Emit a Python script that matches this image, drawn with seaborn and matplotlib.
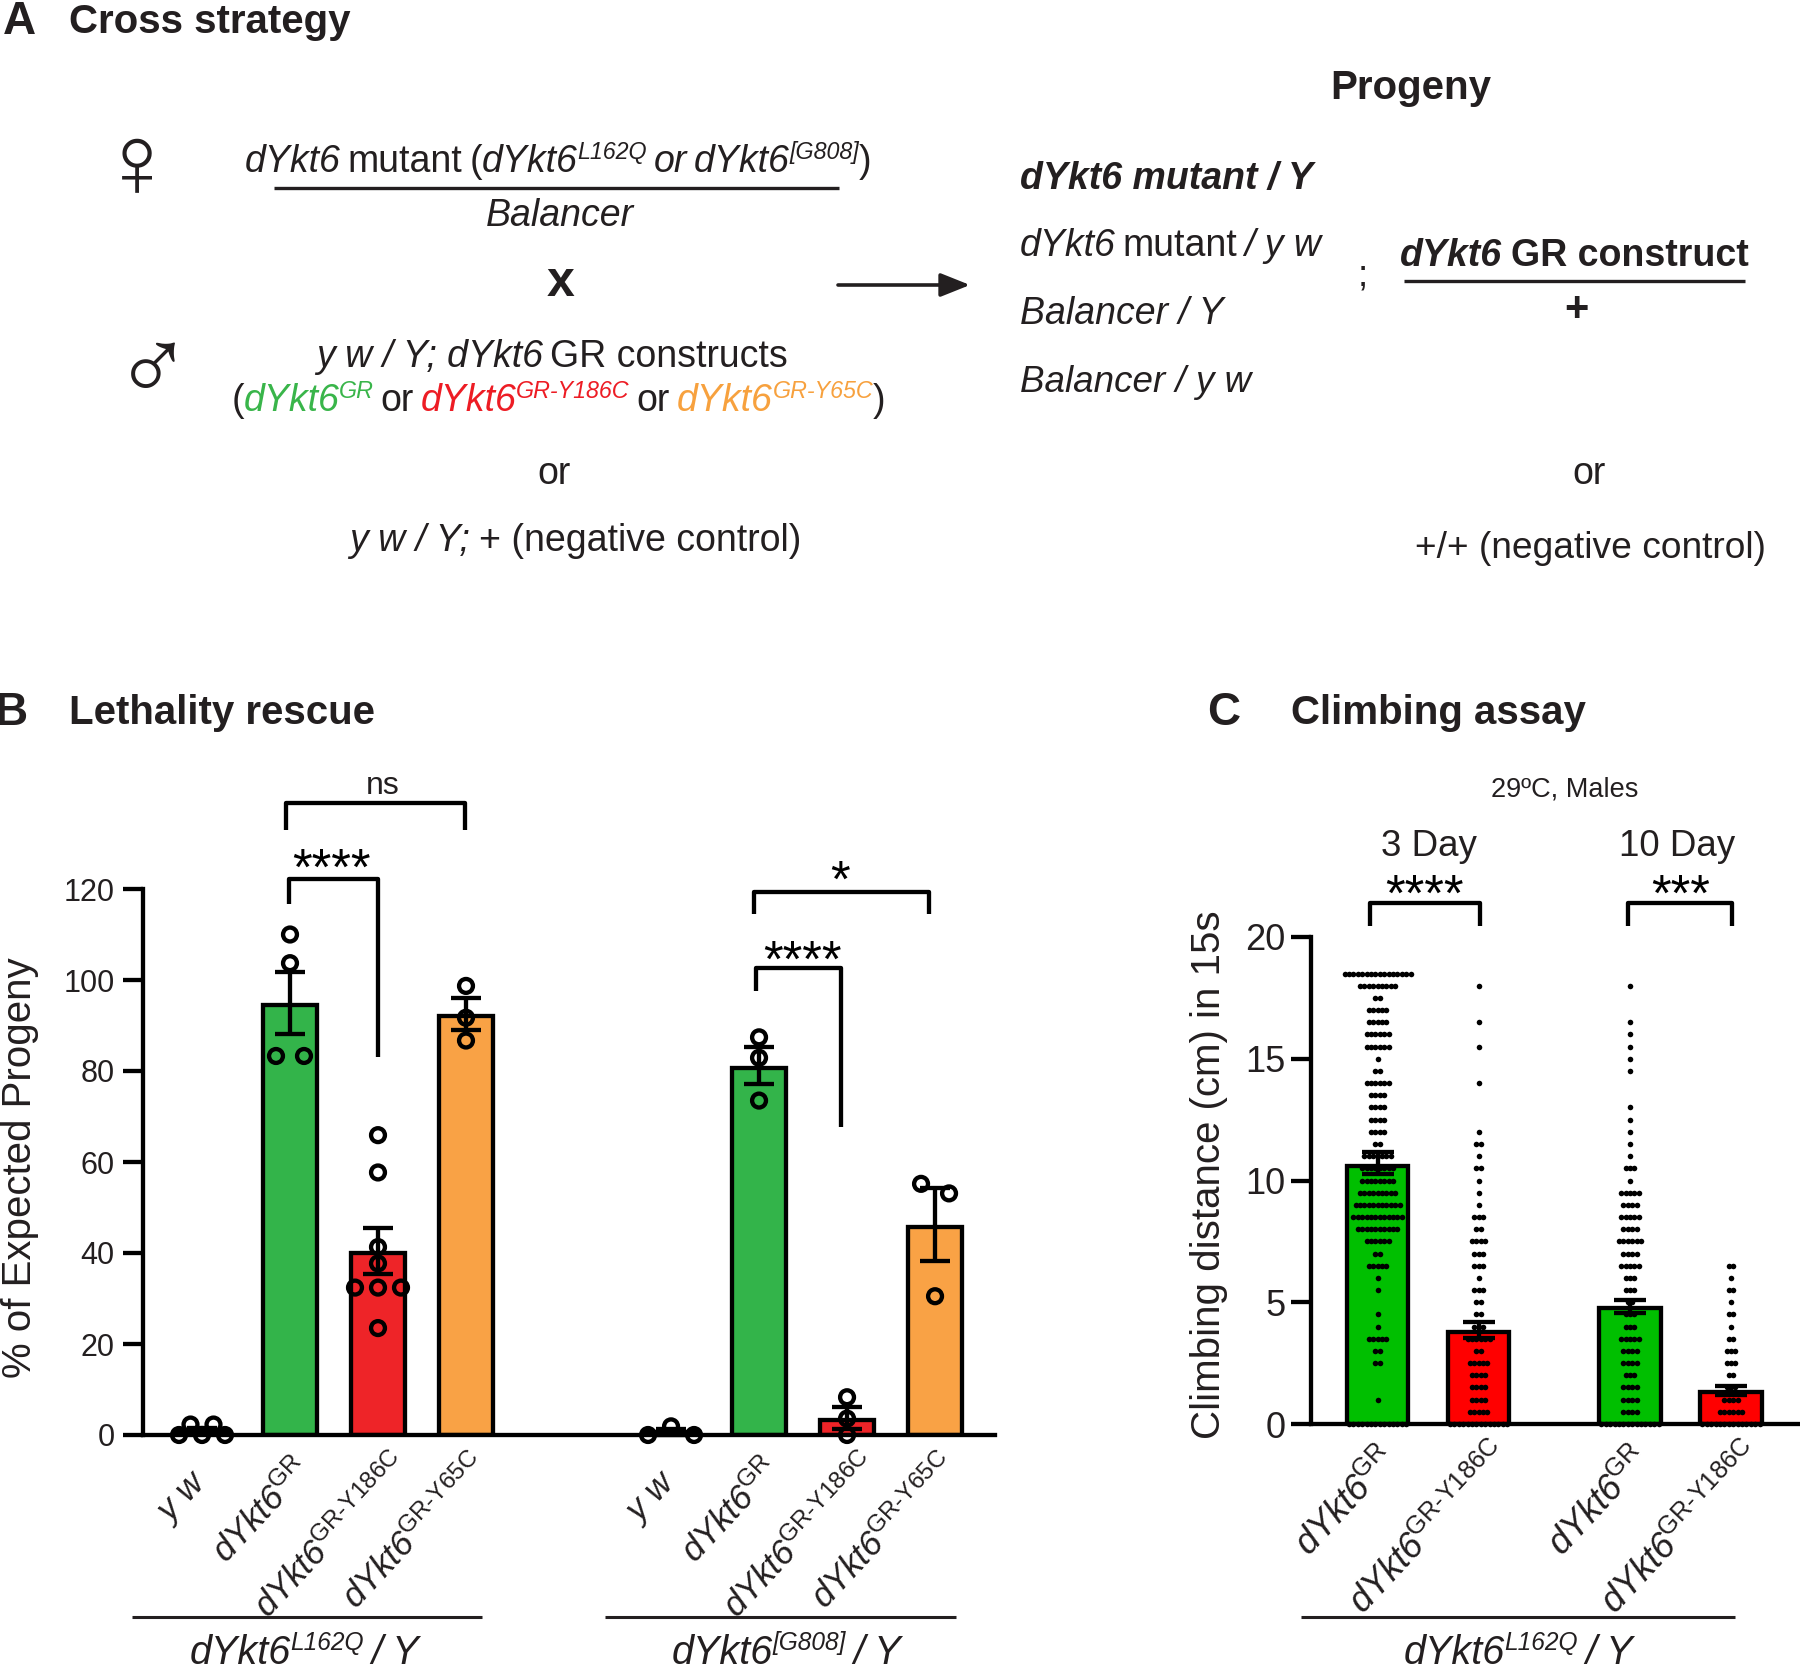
import numpy as np
import pandas as pd
import matplotlib
matplotlib.use("Agg")
import matplotlib.pyplot as plt
from matplotlib.transforms import ScaledTranslation
import seaborn as sns

sns.set_theme(style="ticks")
FONT = "Liberation Sans"
plt.rcParams.update({
    "font.family": [FONT, "DejaVu Sans"],
    "mathtext.fontset": "custom",
    "mathtext.rm": "Liberation Sans:italic",
    "mathtext.it": "Liberation Sans:italic",
    "mathtext.bf": "Liberation Sans",
    "mathtext.fallback": "cm",
})

W, H, DPI = 1800, 1666, 100
INK = "#231f20"

# ---------- data ----------
B_CATS = ["y w", "dYkt6 GR", "dYkt6 GR-Y186C", "dYkt6 GR-Y65C"]
B_MEAN = [0.9, 94.6, 40.0, 92.1, 0.6, 80.7, 3.3, 45.7]
B_LOW = [0.3, 88.2, 35.3, 89.0, 0.1, 77.1, 1.4, 38.3]
B_HIGH = [1.5, 101.8, 45.4, 96.1, 1.4, 85.3, 6.2, 54.3]
B_POINTS = [
    [0.0, 2.3, 0.0, 2.3, 0.0],
    [110.0, 103.7, 83.3, 83.3],
    [65.9, 57.7, 41.3, 37.7, 32.4, 32.4, 32.4, 23.5],
    [98.7, 91.7, 86.7],
    [0.0, 1.9, 0.0],
    [87.4, 82.9, 73.5],
    [8.3, 3.6, 0.0],
    [55.2, 53.1, 30.5],
]
B_COLORS = ["#33b44a", "#ee2428", "#f9a245"]

C_MEAN = [10.6, 3.78, 4.76, 1.33]
C_LOW = [10.27, 3.55, 4.55, 1.2]
C_HIGH = [11.15, 4.2, 5.1, 1.57]
C_ROW_VALUES = [18.5, 18, 17.5, 17, 16.5, 16, 15.5, 15, 14.5, 14, 13.5, 13, 12.5, 12, 11.5, 11, 10.5,
                10, 9.5, 9, 8.5, 8, 7.5, 7, 6.5, 6, 5.5, 5, 4.5, 4, 3.5, 3, 2.5, 2, 1.5, 1, 0.5, 0]
C_COUNTS_1 = [16, 9, 2, 5, 5, 6, 6, 1, 2, 6, 4, 4, 4, 4, 2, 7, 8,
              8, 9, 11, 12, 10, 6, 2, 5, 1, 1, 0, 1, 1, 5, 2, 2, 0, 0, 1, 0, 14]
C_COUNTS_2 = [0, 1, 0, 0, 1, 0, 1, 0, 0, 1, 0, 0, 0, 1, 2, 1, 2,
              1, 1, 1, 3, 2, 4, 3, 3, 1, 3, 2, 2, 3, 6, 2, 5, 4, 4, 4, 5, 14]
C_COUNTS_3 = [0, 1, 0, 0, 1, 1, 1, 1, 1, 0, 0, 1, 1, 1, 1, 1, 3,
              1, 5, 4, 5, 4, 6, 4, 5, 3, 3, 2, 3, 3, 5, 4, 4, 3, 4, 4, 4, 14]
C_COUNTS_4 = [0, 0, 0, 0, 0, 0, 0, 0, 0, 0, 0, 0, 0, 0, 0, 0, 0,
              0, 0, 0, 0, 0, 0, 0, 2, 1, 2, 1, 2, 1, 2, 3, 3, 2, 3, 4, 6, 14]
C_COLORS = ["#00bf00", "#ff0000", "#00bf00", "#ff0000"]

TXT_GREEN, TXT_RED, TXT_ORANGE = "#39b54a", "#ed1c24", "#f7a13e"
LABEL_GR = r"$\mathrm{dYkt6}^{\mathbf{GR}}$"
LABEL_Y186 = "$\\mathrm{dYkt6}^{\\mathbf{GR\u2010Y186C}}$"
LABEL_Y65 = "$\\mathrm{dYkt6}^{\\mathbf{GR\u2010Y65C}}$"
LABEL_YW = r"$\mathrm{y\ w}$"

fig = plt.figure(figsize=(W / DPI, H / DPI), dpi=DPI, facecolor="white")


def make_axes(left, right, top, bottom):
    return fig.add_axes([left / W, 1 - bottom / H, (right - left) / W, (bottom - top) / H])


def style_axes(ax, tick_size, ypad, nudges):
    sns.despine(ax=ax)
    for s in ("left", "bottom"):
        ax.spines[s].set_linewidth(3.1)
        ax.spines[s].set_color("black")
    ax.tick_params(axis="y", length=14.4, width=3.1, labelsize=tick_size, pad=ypad, color="black", labelcolor=INK)
    ax.tick_params(axis="x", length=0, pad=13)
    ax.set_xlabel("")
    ax.patch.set_alpha(0)
    for t, (dx, dy) in zip(ax.get_xticklabels(), nudges):
        t.set_transform(t.get_transform() + ScaledTranslation(dx / 72, dy / 72, fig.dpi_scale_trans))


# ---------- panel B ----------
axB = make_axes(143, 995, 889, 1435)
B_SPACING = 88.0
B_GROUP_GAP = 5.33
pos_b = [i for i in range(4)] + [B_GROUP_GAP + i for i in range(4)]
df_b = pd.DataFrame({"pos": pos_b, "mean": B_MEAN})
pal_b = dict(zip(pos_b, ["#ffffff"] + B_COLORS + ["#ffffff"] + B_COLORS))
sns.barplot(data=df_b, x="pos", y="mean", hue="pos", palette=pal_b, native_scale=True, dodge=False,
            legend=False, width=0.61, edgecolor="black", linewidth=3.1, errorbar=None, ax=axB, saturation=1)


def spread(values, px_per_unit, tol=2.5, step=28.0, total=46.0):
    """Row-wise symmetric spreading of near-equal points, as in a scatter-dot bar."""
    out = np.zeros(len(values))
    used = [False] * len(values)
    for i, v in enumerate(values):
        if used[i]:
            continue
        row = [j for j in range(len(values)) if not used[j] and abs(values[j] - v) <= tol]
        for j in row:
            used[j] = True
        n = len(row)
        if n > 1:
            s = min(step, total / (n - 1))
            for k, j in enumerate(row):
                out[j] = (k - (n - 1) / 2) * s / px_per_unit
    return out


xs, ys = [], []
for p, vals in zip(pos_b, B_POINTS):
    xs.extend(p + spread(vals, B_SPACING))
    ys.extend(vals)
sns.scatterplot(x=xs, y=ys, s=10 ** 2, color="none", edgecolor="black", linewidth=3.1, ax=axB,
                legend=False, zorder=4, clip_on=False)
axB.errorbar(pos_b, B_MEAN, yerr=[np.subtract(B_MEAN, B_LOW), np.subtract(B_HIGH, B_MEAN)], fmt="none",
             ecolor="black", elinewidth=3.1, capsize=10.5, capthick=3.1, zorder=5, clip_on=False)
axB.set_ylim(0, 120)
axB.set_yticks([0, 20, 40, 60, 80, 100, 120])
axB.set_xlim((143 - 202) / B_SPACING, (995 - 202) / B_SPACING)
axB.set_xticks(pos_b)
axB.set_xticklabels([LABEL_YW, LABEL_GR, LABEL_Y186, LABEL_Y65] * 2, rotation=47, ha="right",
                    rotation_mode="anchor", fontsize=25, color=INK)
B_NUDGE = [(-7.5, -9), (1.5, 0), (9, 4), (2.5, 3)]
style_axes(axB, 22, 6, B_NUDGE * 2)
axB.set_ylabel("")

# ---------- panel C ----------
axC = make_axes(1311, 1800, 937, 1424)
C_SPACING = 101.0
pos_c = [0, 1, 2.5, 3.5]
df_c = pd.DataFrame({"pos": pos_c, "mean": C_MEAN})
pal_c = dict(zip(pos_c, C_COLORS))
sns.barplot(data=df_c, x="pos", y="mean", hue="pos", palette=pal_c, native_scale=True, dodge=False,
            legend=False, width=0.605, edgecolor="black", linewidth=3.1, errorbar=None, ax=axC, saturation=1)
xs, ys = [], []
DOT_STEP = 4.4 / C_SPACING
for p, counts in zip(pos_c, [C_COUNTS_1, C_COUNTS_2, C_COUNTS_3, C_COUNTS_4]):
    for v, n in zip(C_ROW_VALUES, counts):
        for k in range(n):
            xs.append(p + (k - (n - 1) / 2) * DOT_STEP)
            ys.append(v)
sns.scatterplot(x=xs, y=ys, s=4.0 ** 2, color="black", edgecolor="black", linewidth=0, ax=axC,
                legend=False, zorder=4, clip_on=False)
axC.errorbar(pos_c, C_MEAN, yerr=[np.subtract(C_MEAN, C_LOW), np.subtract(C_HIGH, C_MEAN)], fmt="none",
             ecolor="black", elinewidth=3.1, capsize=11.5, capthick=3.1, zorder=5)
axC.set_ylim(0, 20)
axC.set_yticks([0, 5, 10, 15, 20])
axC.set_xlim((1311 - 1377.5) / C_SPACING, (1800 - 1377.5) / C_SPACING)
axC.set_xticks(pos_c)
axC.set_xticklabels([LABEL_GR, LABEL_Y186, LABEL_GR, LABEL_Y186], rotation=47, ha="right",
                    rotation_mode="anchor", fontsize=26, color=INK)
style_axes(axC, 26, 4, [(1, 0), (9, 3)] * 2)
axC.set_ylabel("")

# ---------- overlay in pixel coordinates ----------
ov = fig.add_axes([0, 0, 1, 1], zorder=10)
ov.set_xlim(0, W)
ov.set_ylim(H, 0)
ov.axis("off")
renderer = fig.canvas.get_renderer()


def T(x, y, s, size=26.5, ha="center", va="center", color=INK, weight="normal", style="normal", **kw):
    return ov.text(x, y, s, fontsize=size, ha=ha, va=va, color=color, fontweight=weight, fontstyle=style,
                   family=[FONT, "DejaVu Sans"], **kw)


def rule(x0, x1, y, lw=2.2, color=INK):
    ov.plot([x0, x1], [y, y], color=color, lw=lw, solid_capstyle="butt")


def bracket(x0, x1, y_top, y0, y1, lw=3.1):
    ov.plot([x0, x0, x1, x1], [y0, y_top, y_top, y1], color="black", lw=lw, solid_joinstyle="round",
            solid_capstyle="butt")


def rich(x, y, parts, size=27, ha="center", sp=0.2):
    """parts: (text, style, weight, color, sup). y is the baseline."""
    space = sp * size * DPI / 72
    items, total = [], 0.0
    for text, style, weight, color, sup in parts:
        if text == " ":
            items.append(None)
            total += space
            continue
        fs = size * (0.62 if sup else 1)
        t = T(0, y - (0.36 * size * DPI / 72 if sup else 0), text, size=fs, ha="left", va="baseline", color=color,
              weight=weight, style=style)
        w = t.get_window_extent(renderer).width - 0.5
        items.append((t, w))
        total += w
    cur = x - total / 2 if ha == "center" else x
    for it in items:
        if it is None:
            cur += space
        else:
            it[0].set_x(cur)
            cur += it[1]


I, N = "italic", "normal"
B_ = "bold"
SP = (" ", N, N, INK, False)

# headings
T(19, 22, "A", size=33, weight=B_)
T(69, 22, "Cross strategy", size=29, weight=B_, ha="left")
T(11, 713, "B", size=33, weight=B_)
T(69, 713, "Lethality rescue", size=29, weight=B_, ha="left")
T(1224, 713, "C", size=33, weight=B_)
T(1291, 713, "Climbing assay", size=29, weight=B_, ha="left")
T(1411, 88, "Progeny", size=29, weight=B_)

# panel A left
T(137, 171, "\u2640", size=75)
T(153, 374, "\u2642", size=75)
rich(558, 172, [("dYkt6", I, N, INK, False), SP, ("mutant", N, N, INK, False), SP, ("(", N, N, INK, False),
                ("dYkt6", I, N, INK, False), ("L162Q", I, N, INK, True), SP, ("or", I, N, INK, False), SP,
                ("dYkt6", I, N, INK, False), ("[G808]", I, N, INK, True), (")", N, N, INK, False)])
rule(274, 839, 188, lw=2.4)
rich(560, 226, [("Balancer", I, N, INK, False)])
T(561, 283, "x", size=36, weight=B_)
rich(552, 367, [("y w / Y; dYkt6", I, N, INK, False), SP, ("GR constructs", N, N, INK, False)])
rich(558, 411, [("(", N, N, INK, False), ("dYkt6", I, N, TXT_GREEN, False), ("GR", I, N, TXT_GREEN, True), SP,
                ("or", N, N, INK, False), SP, ("dYkt6", I, N, TXT_RED, False), ("GR-Y186C", I, N, TXT_RED, True), SP,
                ("or", N, N, INK, False), SP, ("dYkt6", I, N, TXT_ORANGE, False), ("GR-Y65C", I, N, TXT_ORANGE, True),
                (")", N, N, INK, False)])
rich(554, 484, [("or", N, N, INK, False)])
rich(575, 551, [("y w / Y;", I, N, INK, False), SP, ("+ (negative control)", N, N, INK, False)], sp=0.24)
ov.annotate("", xy=(970, 285), xytext=(838, 285),
            arrowprops=dict(arrowstyle="-|>,head_length=1.5,head_width=0.6", color=INK, lw=2.6, shrinkA=0, shrinkB=0))

# panel A right
rich(1020, 189, [("dYkt6 mutant / Y", I, B_, INK, False)], ha="left")
rich(1020, 256, [("dYkt6", I, N, INK, False), SP, ("mutant", N, N, INK, False), SP, ("/ y w", I, N, INK, False)], ha="left")
rich(1020, 324, [("Balancer / Y", I, N, INK, False)], ha="left")
rich(1020, 392, [("Balancer / y w", I, N, INK, False)], ha="left", size=26.5)
T(1363, 276, ";", size=26.5)
rich(1574, 266, [("dYkt6", I, B_, INK, False), SP, ("GR construct", N, B_, INK, False)], sp=0.24)
rule(1404, 1745, 281, lw=2.4)
T(1576, 310, "+", size=30, weight=B_)
rich(1589, 484, [("or", N, N, INK, False)])
rich(1590, 558, [("+/+ (negative control)", N, N, INK, False)], size=26.7)

# panel B annotations
T(20, 1168, "% of Expected Progeny", size=29, rotation=90)
bracket(286, 465, 803, 830, 830)
T(383, 786, "ns", size=23)
bracket(288.5, 378, 879, 903.5, 1057)
T(331, 871, "****", size=36.5, color="black")
bracket(754, 929, 892, 914, 914)
T(840, 883, "*", size=36.5, color="black")
bracket(756, 841, 968, 991, 1126.5)
T(802, 963, "****", size=36.5, color="black")
rule(132, 482, 1617)
rule(605, 956, 1617)
rich(304, 1664, [("dYkt6", I, N, INK, False), ("L162Q", I, N, INK, True), SP, ("/ Y", I, N, INK, False)], size=28.5)
rich(786, 1664, [("dYkt6", I, N, INK, False), ("[G808]", I, N, INK, True), SP, ("/ Y", I, N, INK, False)], size=28.5)

# panel C annotations
T(1209, 1175, "Climbing distance (cm) in 15s", size=29, rotation=90)
T(1565, 789, "29\u00baC, Males", size=19.5)
T(1429, 846, "3 Day", size=26.5)
T(1677, 846, "10 Day", size=26.5)
bracket(1370, 1480, 903, 926, 926)
bracket(1628, 1732, 903, 926, 926)
T(1424, 897, "****", size=36.5, color="black")
T(1681, 897, "***", size=36.5, color="black")
rule(1301, 1735, 1617)
rich(1518, 1664, [("dYkt6", I, N, INK, False), ("L162Q", I, N, INK, True), SP, ("/ Y", I, N, INK, False)], size=28.5)

fig.savefig("out.png", dpi=DPI, facecolor="white")
